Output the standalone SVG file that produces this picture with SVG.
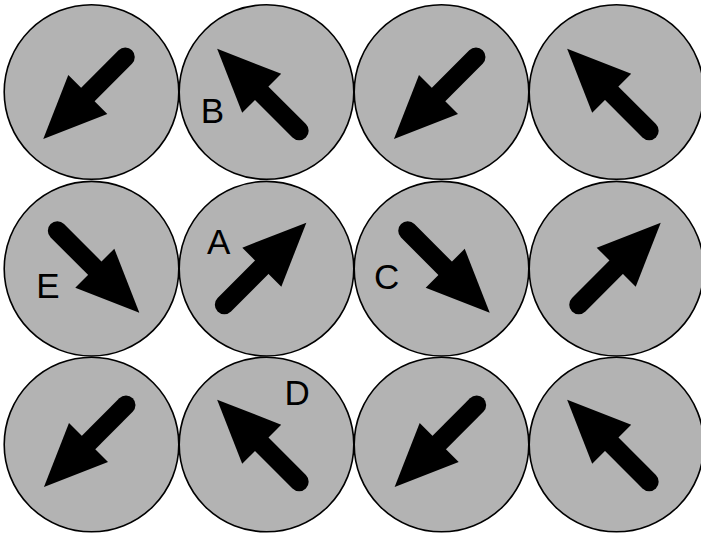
<svg xmlns="http://www.w3.org/2000/svg" xmlns:xlink="http://www.w3.org/1999/xlink" width="701" height="535" viewBox="0 0 701 535">
<style>
.cell{fill:#b3b3b3;stroke:#000;stroke-width:1.6}
.shaft{fill:none;stroke:#000;stroke-width:19;stroke-linecap:round}
.head{fill:#000;stroke:none}
.lbl{font-family:"Liberation Sans",Arial,sans-serif;font-size:35px;fill:#000}
</style>
<defs>
<g id="arr">
<path class="shaft" d="M-53,0 L2,0"/>
<polygon class="head" points="0,-27.6 63,0 0,27.6"/>
</g>
</defs>
<rect width="701" height="535" fill="#fff"/>
<g id="n00"><circle class="cell" cx="91.5" cy="92" r="87.3"/><use xlink:href="#arr" transform="translate(87.8,94.5) rotate(135)"/></g>
<g id="n01"><circle class="cell" cx="266.5" cy="92" r="87.3"/><use xlink:href="#arr" transform="translate(261.7,93.3) rotate(225)"/><text class="lbl" x="200.8" y="122.5">B</text></g>
<g id="n02"><circle class="cell" cx="441.5" cy="92" r="87.3"/><use xlink:href="#arr" transform="translate(438.5,94.5) rotate(135)"/></g>
<g id="n03"><circle class="cell" cx="616.5" cy="92" r="87.3"/><use xlink:href="#arr" transform="translate(611.7,93.3) rotate(225)"/></g>
<g id="n10"><circle class="cell" cx="91.5" cy="268.7" r="87.3"/><use xlink:href="#arr" transform="translate(94.8,268.2) rotate(45)"/><text class="lbl" x="36.3" y="298.3">E</text></g>
<g id="n11"><circle class="cell" cx="266.5" cy="268.7" r="87.3"/><use xlink:href="#arr" transform="translate(261.8,267.2) rotate(-45)"/><text class="lbl" x="207" y="254">A</text></g>
<g id="n12"><circle class="cell" cx="441.5" cy="268.7" r="87.3"/><use xlink:href="#arr" transform="translate(445.2,268.3) rotate(45)"/><text class="lbl" x="374" y="288.5">C</text></g>
<g id="n13"><circle class="cell" cx="616.5" cy="268.7" r="87.3"/><use xlink:href="#arr" transform="translate(616.2,267.2) rotate(-45)"/></g>
<g id="n20"><circle class="cell" cx="91.5" cy="444.5" r="87.3"/><use xlink:href="#arr" transform="translate(88.5,442.5) rotate(135)"/></g>
<g id="n21"><circle class="cell" cx="266.5" cy="444.5" r="87.3"/><use xlink:href="#arr" transform="translate(261.7,444.2) rotate(225)"/><text class="lbl" x="284.6" y="405">D</text></g>
<g id="n22"><circle class="cell" cx="441.5" cy="444.5" r="87.3"/><use xlink:href="#arr" transform="translate(439.2,442.5) rotate(135)"/></g>
<g id="n23"><circle class="cell" cx="616.5" cy="444.5" r="87.3"/><use xlink:href="#arr" transform="translate(611.7,444.2) rotate(225)"/></g>
<g id="connectors"/>
</svg>
